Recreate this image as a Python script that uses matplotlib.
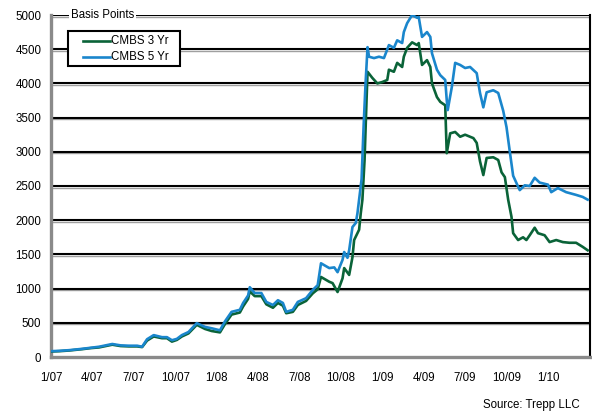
import matplotlib
matplotlib.use("Agg")
import matplotlib.pyplot as plt
from matplotlib.lines import Line2D
from matplotlib.patches import Rectangle
from matplotlib.transforms import offset_copy

plt.rcParams['font.family'] = ['Liberation Sans', 'DejaVu Sans']

# decimal-year dates and spreads (basis points)
t5 = [2007.00, 2007.05, 2007.11, 2007.19, 2007.24, 2007.29, 2007.37, 2007.42, 2007.47, 2007.52,
      2007.55, 2007.58, 2007.62, 2007.67, 2007.70, 2007.73, 2007.76, 2007.79, 2007.83, 2007.88,
      2007.93, 2007.97, 2008.02, 2008.05, 2008.09, 2008.14, 2008.16, 2008.19, 2008.20, 2008.23,
      2008.27, 2008.30, 2008.34, 2008.37, 2008.40, 2008.42, 2008.46, 2008.49, 2008.54, 2008.58,
      2008.61, 2008.63, 2008.68, 2008.71, 2008.73, 2008.76, 2008.77, 2008.79, 2008.80, 2008.82,
      2008.84, 2008.85, 2008.86, 2008.875, 2008.887, 2008.899, 2008.911, 2008.92, 2008.95, 2008.98,
      2009.01, 2009.04, 2009.07, 2009.09, 2009.12, 2009.13, 2009.15, 2009.18, 2009.21, 2009.22,
      2009.24, 2009.27, 2009.29, 2009.30, 2009.33, 2009.35, 2009.38, 2009.389, 2009.395, 2009.42,
      2009.44, 2009.47, 2009.50, 2009.53, 2009.57, 2009.59, 2009.61, 2009.63, 2009.67, 2009.70,
      2009.73, 2009.75, 2009.77, 2009.79, 2009.82, 2009.83, 2009.86, 2009.89, 2009.92, 2009.95,
      2010.00, 2010.02, 2010.06, 2010.11, 2010.17, 2010.21, 2010.24]
cmbs_5yr = [85, 90, 100, 120, 135, 150, 190, 170, 165, 165,
            150, 260, 320, 290, 290, 245, 265, 320, 365, 495,
            440, 420, 390, 520, 660, 690, 790, 900, 1020, 935,
            935, 805, 760, 830, 790, 660, 690, 805, 860, 980,
            1050, 1370, 1300, 1310, 1240, 1420, 1535, 1450, 1560, 1900,
            1960, 2100, 2300, 2600, 3360, 4000, 4530, 4390, 4370, 4390,
            4370, 4560, 4520, 4630, 4590, 4750, 4880, 5000, 4960, 4970,
            4680, 4750, 4680, 4440, 4200, 4120, 4050, 3760, 3610, 3950,
            4300, 4270, 4225, 4240, 4150, 3860, 3650, 3870, 3900, 3860,
            3600, 3360, 3000, 2650, 2490, 2440, 2510, 2500, 2620, 2550,
            2520, 2410, 2470, 2410, 2370, 2340, 2300]

t3 = [2007.00, 2007.05, 2007.11, 2007.19, 2007.24, 2007.29, 2007.37, 2007.42, 2007.47, 2007.52,
      2007.55, 2007.58, 2007.62, 2007.67, 2007.70, 2007.73, 2007.76, 2007.79, 2007.83, 2007.88,
      2007.93, 2007.97, 2008.02, 2008.05, 2008.09, 2008.14, 2008.16, 2008.19, 2008.20, 2008.23,
      2008.27, 2008.30, 2008.34, 2008.37, 2008.40, 2008.42, 2008.46, 2008.49, 2008.54, 2008.58,
      2008.61, 2008.63, 2008.68, 2008.70, 2008.73, 2008.76, 2008.77, 2008.80, 2008.82, 2008.83,
      2008.86, 2008.87, 2008.88, 2008.893, 2008.905, 2008.911, 2008.94, 2008.97, 2009.00, 2009.03,
      2009.04, 2009.07, 2009.09, 2009.12, 2009.13, 2009.15, 2009.18, 2009.21, 2009.22, 2009.24,
      2009.27, 2009.29, 2009.30, 2009.33, 2009.35, 2009.38, 2009.389, 2009.41, 2009.44, 2009.47,
      2009.50, 2009.55, 2009.57, 2009.59, 2009.61, 2009.63, 2009.67, 2009.70, 2009.72, 2009.74,
      2009.76, 2009.78, 2009.79, 2009.82, 2009.85, 2009.87, 2009.89, 2009.92, 2009.94, 2009.98,
      2010.01, 2010.05, 2010.09, 2010.13, 2010.17, 2010.21, 2010.24]
cmbs_3yr = [80, 85, 95, 115, 130, 140, 180, 160, 155, 155,
            145, 240, 300, 275, 275, 225, 250, 300, 345, 470,
            410, 380, 360, 480, 620, 650, 740, 850, 960, 890,
            890, 770, 720, 790, 750, 640, 660, 760, 820, 930,
            990, 1170, 1100, 1080, 950, 1150, 1300, 1200, 1460, 1710,
            1860, 2100, 2300, 2880, 3760, 4170, 4080, 4000, 4020, 4050,
            4200, 4170, 4300, 4240, 4390, 4520, 4600, 4560, 4590, 4270,
            4340, 4240, 4000, 3800, 3730, 3680, 2980, 3270, 3290, 3220,
            3250, 3200, 3130, 2860, 2660, 2910, 2920, 2880, 2700, 2630,
            2300, 2050, 1810, 1710, 1750, 1710, 1780, 1890, 1810, 1780,
            1680, 1710, 1680, 1670, 1670, 1610, 1560]

series_names = ['CMBS 3 Yr', 'CMBS 5 Yr']
tick_pos = [2007.0 + 0.25 * i for i in range(13)]
tick_labels = ['1/07', '4/07', '7/07', '10/07', '1/08', '4/08', '7/08', '10/08',
               '1/09', '4/09', '7/09', '10/09', '1/10']
y_ticks = list(range(0, 5001, 500))

GREEN = '#0a6338'
BLUE = '#1a86cc'
FS = 8.3
X0, X1 = 2007.0, 2010.254

fig = plt.figure(figsize=(5.92, 4.12), dpi=100)
ax = fig.add_axes([51/592, 1 - 357/412, 539/592, 342/412])

shadow = offset_copy(ax.transData, fig=fig, x=0, y=-1.6, units='dots')
for v in y_ticks[1:]:
    ax.plot([X0, X1], [v, v], color='#a0a0a0', lw=1.0, transform=shadow, zorder=1,
            solid_capstyle='butt')
    ax.plot([X0, X1], [v, v], color='black', lw=1.5, zorder=1.1, solid_capstyle='butt')

l3, = ax.plot(t3, cmbs_3yr, color=GREEN, lw=1.9, zorder=3, solid_joinstyle='round')
l5, = ax.plot(t5, cmbs_5yr, color=BLUE, lw=1.9, zorder=4, solid_joinstyle='round')

ax.set_xlim(X0, X1)
ax.set_ylim(0, 5000)
ax.set_xticks(tick_pos)
ax.set_xticklabels(tick_labels)
ax.set_yticks(y_ticks)
ax.tick_params(axis='both', length=0, labelsize=FS, colors='black')
ax.tick_params(axis='x', pad=10.5)
ax.tick_params(axis='y', pad=7)

for s in ['left', 'bottom']:
    ax.spines[s].set_color('#8a8a8a')
    ax.spines[s].set_linewidth(2.4)
ax.spines['right'].set_color('black')
ax.spines['right'].set_linewidth(1.5)
ax.spines['top'].set_visible(False)

ax.text(0.037, 1.0, 'Basis Points', transform=ax.transAxes, fontsize=FS,
        va='center', ha='left', zorder=6,
        bbox=dict(facecolor='white', edgecolor='none', pad=1.5))

# legend box drawn in figure pixels
W, H = 592.0, 412.0
fig.add_artist(Rectangle((68/W, 1 - 66/H), 112/W, 35/H, transform=fig.transFigure,
                         facecolor='white', edgecolor='black', lw=1.5, zorder=7))
for name, line, yp in zip(series_names, [l3, l5], [41, 57]):
    fig.add_artist(Line2D([83/W, 110/W], [1 - yp/H, 1 - yp/H], transform=fig.transFigure,
                          color=line.get_color(), lw=1.9, zorder=8))
    fig.text(111/W, 1 - yp/H, name, fontsize=FS, ha='left', va='center', zorder=8)

fig.text(580/W, 1 - 405/H, 'Source: Trepp LLC', fontsize=FS, ha='right', va='center')

fig.savefig('out.png', dpi=100)
